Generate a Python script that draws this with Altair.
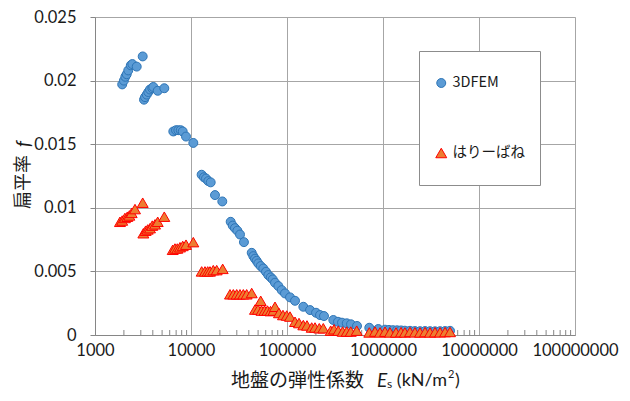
import altair as alt
import pandas as pd

# ---------------- data ----------------
series_names = ["3DFEM", "はりーばね"]

fem_E = [1920, 2000, 2070, 2140, 2220, 2360, 2450, 2720, 3140,
         3240, 3320, 3460, 3590, 3740, 3950, 4050, 4500, 5270,
         6540, 6980, 7380, 7810, 8200, 8870, 10570,
         12900, 13650, 14330, 15150, 16040, 17780, 21180,
         25900, 27200, 28700, 30400, 32400, 35600,
         42900, 44600, 46400, 48300, 50200, 53200, 56600, 60400, 63900, 67700,
         71000, 75000, 81200, 88100, 95300, 107500, 121200, 147900, 173800,
         200600, 220700, 242900, 303700, 339800, 374000, 418900, 464200,
         536100, 719600, 893000, 1049000, 1155000, 1270000, 1400000, 1540000,
         1690000, 1910000, 2150000, 2430000, 2740000, 3090000, 3480000,
         3930000, 4430000, 4990000]
fem_f = [0.0197, 0.0200, 0.0203, 0.0205, 0.0208, 0.0212, 0.0213, 0.0211, 0.0219,
         0.0185, 0.0187, 0.0189, 0.0191, 0.0193, 0.0194, 0.0195, 0.0192, 0.0194,
         0.0160, 0.0161, 0.0161, 0.0161, 0.0160, 0.0156, 0.0151,
         0.0126, 0.0124, 0.0123, 0.0121, 0.0120, 0.0110, 0.0105,
         0.0089, 0.0086, 0.0084, 0.0082, 0.0079, 0.0073,
         0.00646, 0.0062, 0.0060, 0.00583, 0.00563, 0.00542, 0.00523, 0.00497, 0.00471, 0.00453,
         0.00437, 0.00411, 0.00385, 0.00353, 0.00327, 0.00296, 0.00269, 0.00222, 0.00196,
         0.00175, 0.00157, 0.00149, 0.00118, 0.00104, 0.00097, 0.00092, 0.00084,
         0.00071, 0.00057, 0.00047, 0.00042, 0.00040, 0.00038, 0.00037, 0.00036,
         0.00034, 0.00033, 0.00031, 0.00030, 0.00031, 0.00030, 0.00029,
         0.00030, 0.00031, 0.00033]

beam_E = [1820, 1920, 2050, 2170, 2280, 2410, 2610, 3140,
          3190, 3370, 3540, 3740, 3950, 4220, 4500, 5270,
          6450, 6810, 7200, 7680, 8200, 8870, 10570,
          12920, 13990, 14930, 15770, 17070, 18520, 21380,
          25480, 27600, 29930, 32380, 35070, 38010, 42880,
          46400, 49900, 53200, 54250, 58300, 62600, 67300, 72300, 75000,
          82500, 90800, 99300, 107500, 121200, 133400, 147900, 161600,
          180800, 195800, 216900, 238800, 285200, 309000, 342100, 380400,
          418900, 461300, 532000, 719600, 825400, 930600, 1049000, 1183000,
          1365000, 1540000, 1690000, 1910000, 2150000, 2430000, 2740000,
          3090000, 3480000, 3930000, 4430000, 4990000]
beam_f = [0.0089, 0.0090, 0.0092, 0.0093, 0.0094, 0.0096, 0.0099, 0.0104,
          0.0080, 0.0082, 0.0083, 0.0084, 0.0086, 0.0087, 0.0089, 0.0093,
          0.0067, 0.0068, 0.0068, 0.0069, 0.0070, 0.0071, 0.0073,
          0.0050, 0.0050, 0.0050, 0.0050, 0.0051, 0.0051, 0.0052,
          0.0032, 0.0032, 0.0032, 0.0032, 0.0032, 0.0032, 0.0033,
          0.0020, 0.0020, 0.00269, 0.00192, 0.00192, 0.00192, 0.00188, 0.00192, 0.00222,
          0.00173, 0.00157, 0.00153, 0.00145, 0.00104, 0.00094, 0.00078, 0.00075,
          0.00059, 0.00059, 0.00053, 0.00053, 0.00034, 0.00045, 0.00034, 0.00027,
          0.00027, 0.00027, 0.00034, 0.00020, 0.00027, 0.00020, 0.00026, 0.00020,
          0.00020, 0.00022, 0.00020, 0.00024, 0.00021, 0.00020, 0.00023,
          0.00020, 0.00022, 0.00021, 0.00023, 0.00024]

x_ticks = [1000, 10000, 100000, 1000000, 10000000, 100000000]
x_minor_mult = [2, 3, 4, 5, 6, 7, 8, 9]
x_minor_ticks = [m * d for d in x_ticks[:-1] for m in x_minor_mult]
y_ticks = [0, 0.005, 0.01, 0.015, 0.02, 0.025]

x_title_parts = ["地盤の弾性係数", "E", "s", "(kN/m", "2", ")"]
y_title_parts = ["扁平率", "f"]

# ---------------- tables ----------------
pts = pd.DataFrame({
    "E": fem_E + beam_E,
    "f": fem_f + beam_f,
    "series": [series_names[0]] * len(fem_E) + [series_names[1]] * len(beam_E),
    "order": list(range(len(fem_E) + len(beam_E))),
})
minor_df = pd.DataFrame({"E": x_minor_ticks})

JP = "Noto Sans CJK JP"
LAT = "Lato"
GRID = "#a6a6a6"
AXIS = "#868686"
TXT = "#1a1a1a"

xscale = alt.Scale(type="log", domain=[x_ticks[0], x_ticks[-1]], nice=False)
yscale = alt.Scale(domain=[y_ticks[0], y_ticks[-1]], nice=False, zero=True)

points = alt.Chart(pts).mark_point(filled=True, opacity=1, strokeWidth=1).encode(
    x=alt.X("E:Q", scale=xscale,
            axis=alt.Axis(values=x_ticks, format="d", grid=True, gridColor=GRID, gridWidth=1,
                          ticks=False, domainColor=AXIS, labelPadding=7, labelFontSize=16.5,
                          labelFont=LAT, labelColor=TXT, title=None, labelFlush=False)),
    y=alt.Y("f:Q", scale=yscale,
            axis=alt.Axis(values=y_ticks, format="~g", grid=True, gridColor=GRID, gridWidth=1,
                          tickColor=AXIS, tickSize=5, domainColor=AXIS, labelPadding=14,
                          labelFontSize=16.5, labelFont=LAT, labelColor=TXT, title=None,
                          labelFlush=False)),
    color=alt.Color("series:N",
                    scale=alt.Scale(domain=series_names, range=["#5b9bd5", "#ed7d31"]),
                    legend=alt.Legend(title=None, orient="none", legendX=324, legendY=34,
                                      padding=15, clipHeight=34, rowPadding=36,
                                      labelFontSize=14.5, labelFont=JP, labelColor=TXT,
                                      strokeColor="#8c8c8c", fillColor="white",
                                      symbolSize=70, labelOffset=4, symbolStrokeWidth=1)),
    shape=alt.Shape("series:N", scale=alt.Scale(domain=series_names, range=["circle", "triangle-up"])),
    stroke=alt.Stroke("series:N", scale=alt.Scale(domain=series_names, range=["#2e75b6", "#ff0000"])),
    size=alt.Size("series:N", scale=alt.Scale(domain=series_names, range=[80, 120]), legend=None),
    order=alt.Order("order:Q"),
)

minor = alt.Chart(minor_df).mark_rule(color=AXIS, strokeWidth=1).encode(
    x=alt.X("E:Q", scale=xscale),
    y=alt.value(318), y2=alt.value(313),
)

def txt(s, x, y, size, font=JP, align="left", style="normal", angle=0):
    return alt.Chart(pd.DataFrame({"t": [s]})).mark_text(
        align=align, baseline="middle", font=font, fontSize=size, fontStyle=style,
        color=TXT, angle=angle,
    ).encode(text="t:N", x=alt.value(x), y=alt.value(y))

titles = [
    txt(x_title_parts[0], 269, 364, 19, align="right"),
    txt(x_title_parts[1], 282, 364, 19, font=LAT, style="italic"),
    txt(x_title_parts[2], 292, 367, 12, font=LAT),
    txt(x_title_parts[3], 352, 364, 18, font=LAT, align="right"),
    txt(x_title_parts[4], 353, 358, 11, font=LAT),
    txt(x_title_parts[5], 360, 364, 18, font=LAT),
    txt(y_title_parts[0], -71, 165, 18, align="center", angle=270),
    txt(y_title_parts[1], -71, 127, 19, font=LAT, align="center", style="italic", angle=270),
]

chart = alt.layer(minor, points, *titles).properties(
    width=480, height=318,
    padding={"left": 87, "top": 9, "right": 47, "bottom": 58},
    autosize=alt.AutoSizeParams(type="none"),
).configure_view(stroke=None).configure(background="white")

chart.save("out.html", embed_options={"renderer": "svg", "actions": False})
